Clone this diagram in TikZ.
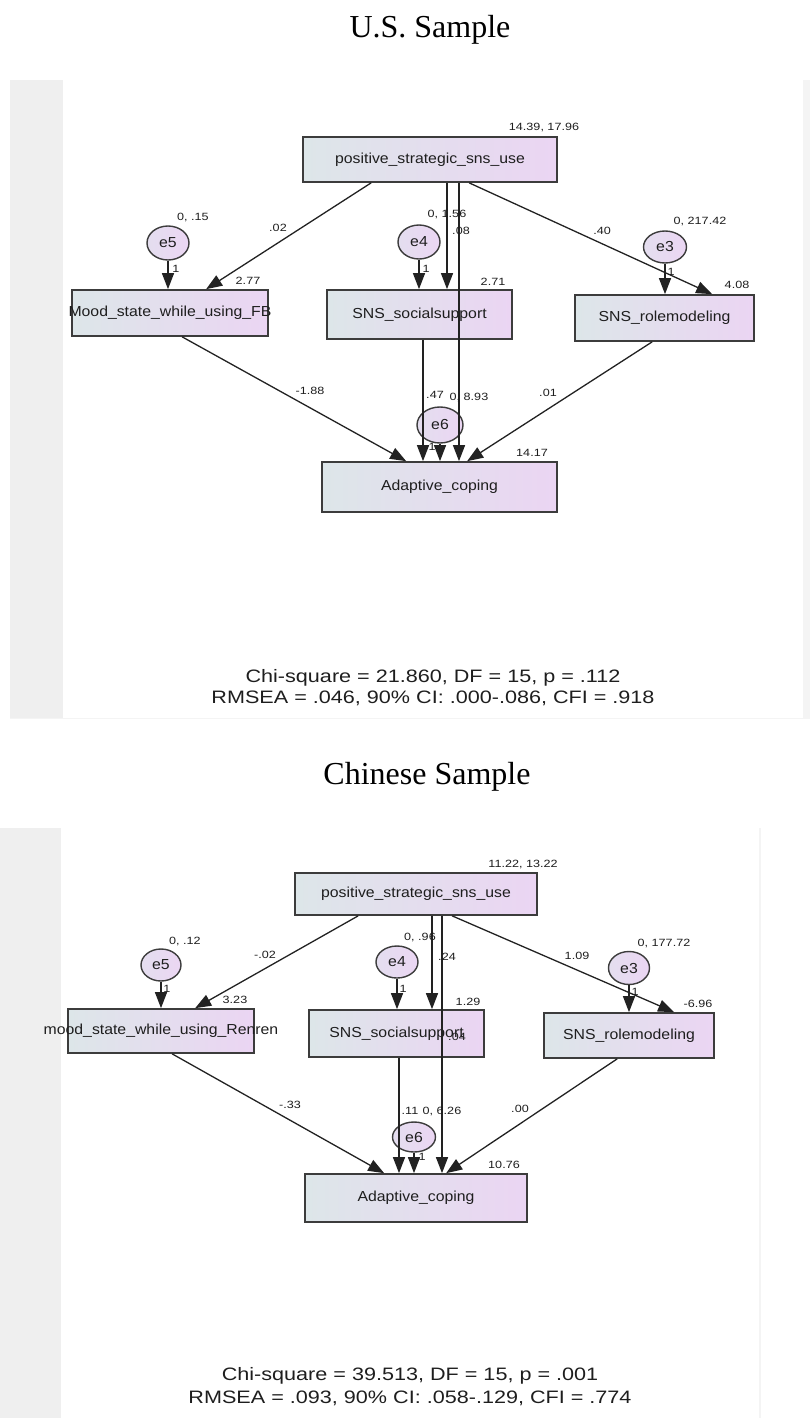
\documentclass[tikz,border=0pt]{standalone}
\usepackage{fontspec}
\setmainfont{Liberation Serif}
\newfontfamily\nodefont[FakeStretch=1.09]{Liberation Sans}
\newfontfamily\fitfont[FakeStretch=1.2]{Liberation Sans}
\newfontfamily\numfont[FakeStretch=1.2]{Liberation Sans}
\usetikzlibrary{arrows.meta,shapes.geometric}
\definecolor{panelgray}{HTML}{EFEFEF}
\definecolor{edgegray}{HTML}{F4F4F4}
\definecolor{boxline}{HTML}{3C3C3C}
\definecolor{boxleft}{HTML}{DDE6E9}
\definecolor{boxright}{HTML}{EBD5F3}
\definecolor{ellleft}{HTML}{E4DEEF}
\definecolor{ellright}{HTML}{EBD6F3}
\definecolor{linec}{HTML}{222222}
\definecolor{txt}{HTML}{1E1E1E}
\begin{document}
\begin{tikzpicture}[x=1pt,y=-1pt,
  box/.style={draw=boxline, line width=1.7pt, left color=boxleft, right color=boxright,
    inner sep=0pt, text=txt, font=\nodefont\fontsize{14.5}{17}\selectfont},
  err/.style={ellipse, draw=boxline, line width=1.4pt, left color=ellleft, right color=ellright,
    inner sep=0pt, text=txt, font=\nodefont\fontsize{14.5}{17}\selectfont},
  arr/.style={draw=linec, line width=1.3pt, -{Triangle[length=16pt,width=12pt]}},
  num/.style={inner sep=0pt, text=txt, font=\numfont\fontsize{10.5}{12}\selectfont},
  fit/.style={inner sep=0pt, text=txt, font=\fitfont\fontsize{18}{22}\selectfont},
  heading/.style={inner sep=0pt, font=\fontsize{32}{38}\selectfont}]
\useasboundingbox (0,0) rectangle (810,1418);

% ---------- panel backgrounds ----------
\fill[panelgray] (10,80) rectangle (63,718);
\fill[edgegray] (803,80) rectangle (810,718);
\draw[edgegray, line width=1pt] (10,718) -- (810,718);
\fill[panelgray] (0,828) rectangle (61,1418);
\draw[edgegray, line width=2pt] (760,828) -- (760,1418);

% ---------- titles ----------
\node[heading] (t1) at (430,30) {U.S. Sample};
\node[heading] (t2) at (427,777) {Chinese Sample};

% ================= U.S. model =================
\node[box, minimum width=254pt, minimum height=45pt] (pos1) at (430,159.5) {\makebox[0pt]{positive\_strategic\_sns\_use}};
\node[box, minimum width=196pt, minimum height=46pt] (mood1) at (170,313) {\makebox[0pt]{Mood\_state\_while\_using\_FB}};
\node[box, minimum width=185pt, minimum height=49pt] (soc1) at (419.5,314.5) {\makebox[0pt]{SNS\_socialsupport}};
\node[box, minimum width=179pt, minimum height=46pt] (role1) at (664.5,318) {\makebox[0pt]{SNS\_rolemodeling}};
\node[box, minimum width=235pt, minimum height=50pt] (ad1) at (439.5,487) {\makebox[0pt]{Adaptive\_coping}};
\node[err, minimum width=42pt, minimum height=34pt] (e5a) at (168,243) {e5};
\node[err, minimum width=42pt, minimum height=34pt] (e4a) at (419,242) {e4};
\node[err, minimum width=43pt, minimum height=32pt] (e3a) at (665,247) {e3};
\node[err, minimum width=46pt, minimum height=36pt] (e6a) at (440,425) {e6};

\coordinate (u447) at (447,0);
\coordinate (u459) at (459,0);
\coordinate (u423) at (423,0);

\draw[arr] ([xshift=69pt]pos1.south west) -- ([xshift=135pt]mood1.north west);
\draw[arr] (pos1.south -| u447) -- (soc1.north -| u447);
\draw[arr] (pos1.south -| u459) -- (ad1.north -| u459);
\draw[arr] ([xshift=167pt]pos1.south west) -- ([xshift=138pt]role1.north west);
\draw[arr] (e5a.south) -- (mood1.north -| e5a.south);
\draw[arr] (e4a.south) -- (soc1.north -| e4a.south);
\draw[arr] (e3a.south) -- (role1.north -| e3a.south);
\draw[arr] ([xshift=111pt]mood1.south west) -- ([xshift=85pt]ad1.north west);
\draw[arr] (soc1.south -| u423) -- (ad1.north -| u423);
\draw[arr] (e6a.south) -- (ad1.north -| e6a.south);
\draw[arr] ([xshift=78pt]role1.south west) -- ([xshift=146pt]ad1.north west);

\node[num] (l1) at (544,128) {14.39, 17.96};
\node[num] (l2) at (193,218) {0, .15};
\node[num] (l3) at (278,228) {.02};
\node[num] (l4) at (248,281) {2.77};
\node[num] (l5) at (176,269) {1};
\node[num] (l6) at (447,215) {0, 1.56};
\node[num] (l7) at (461,231) {.08};
\node[num] (l8) at (426,269) {1};
\node[num] (l9) at (493,282) {2.71};
\node[num] (l10) at (602,231) {.40};
\node[num] (l11) at (700,222) {0, 217.42};
\node[num] (l12) at (671,272) {1};
\node[num] (l13) at (737,285) {4.08};
\node[num] (l14) at (310,391) {-1.88};
\node[num] (l15) at (435,395) {.47};
\node[num] (l16) at (469,398) {0, 8.93};
\node[num] (l17) at (548,393) {.01};
\node[num] (l18) at (432,447) {1};
\node[num] (l19) at (532,453) {14.17};

\node[fit] (f1) at (433,678) {Chi-square = 21.860, DF = 15, p = .112};
\node[fit] (f2) at (433,698) {RMSEA = .046, 90\% CI: .000-.086, CFI = .918};

% ================= Chinese model =================
\node[box, minimum width=242pt, minimum height=42pt] (pos2) at (416,894) {\makebox[0pt]{positive\_strategic\_sns\_use}};
\node[box, minimum width=186pt, minimum height=44pt] (mood2) at (161,1031) {\makebox[0pt]{mood\_state\_while\_using\_Renren}};
\node[box, minimum width=175pt, minimum height=47pt] (soc2) at (396.5,1033.5) {\makebox[0pt]{SNS\_socialsupport}};
\node[box, minimum width=170pt, minimum height=45pt] (role2) at (629,1035.5) {\makebox[0pt]{SNS\_rolemodeling}};
\node[box, minimum width=222pt, minimum height=48pt] (ad2) at (416,1198) {\makebox[0pt]{Adaptive\_coping}};
\node[err, minimum width=40pt, minimum height=32pt] (e5b) at (161,965) {e5};
\node[err, minimum width=42pt, minimum height=32pt] (e4b) at (397,962) {e4};
\node[err, minimum width=41pt, minimum height=33pt] (e3b) at (629,968) {e3};
\node[err, minimum width=43pt, minimum height=30pt] (e6b) at (414,1137) {e6};

\coordinate (c432) at (432,0);
\coordinate (c442) at (442,0);
\coordinate (c399) at (399,0);

\draw[arr] ([xshift=64pt]pos2.south west) -- ([xshift=128pt]mood2.north west);
\draw[arr] (pos2.south -| c432) -- (soc2.north -| c432);
\draw[arr] (pos2.south -| c442) -- (ad2.north -| c442);
\draw[arr] ([xshift=158pt]pos2.south west) -- ([xshift=131pt]role2.north west);
\draw[arr] (e5b.south) -- (mood2.north -| e5b.south);
\draw[arr] (e4b.south) -- (soc2.north -| e4b.south);
\draw[arr] (e3b.south) -- (role2.north -| e3b.south);
\draw[arr] ([xshift=105pt]mood2.south west) -- ([xshift=80pt]ad2.north west);
\draw[arr] (soc2.south -| c399) -- (ad2.north -| c399);
\draw[arr] (e6b.south) -- (ad2.north -| e6b.south);
\draw[arr] ([xshift=74pt]role2.south west) -- ([xshift=142pt]ad2.north west);

\node[num] (m1) at (523,864) {11.22, 13.22};
\node[num] (m2) at (185,941) {0, .12};
\node[num] (m3) at (265,955) {-.02};
\node[num] (m4) at (235,1000) {3.23};
\node[num] (m5) at (167,989) {1};
\node[num] (m6) at (420,937) {0, .96};
\node[num] (m7) at (447,957) {.24};
\node[num] (m8) at (403,989) {1};
\node[num] (m9) at (468,1002) {1.29};
\node[num] (m10) at (457,1037) {.04};
\node[num] (m11) at (577,956) {1.09};
\node[num] (m12) at (664,943) {0, 177.72};
\node[num] (m13) at (635,992) {1};
\node[num] (m14) at (698,1004) {-6.96};
\node[num] (m15) at (290,1105) {-.33};
\node[num] (m16) at (410,1111) {.11};
\node[num] (m17) at (442,1111) {0, 6.26};
\node[num] (m18) at (520,1109) {.00};
\node[num] (m19) at (422,1157) {1};
\node[num] (m20) at (504,1165) {10.76};

\node[fit] (f3) at (410,1376) {Chi-square = 39.513, DF = 15, p = .001};
\node[fit] (f4) at (410,1398) {RMSEA = .093, 90\% CI: .058-.129, CFI = .774};
\end{tikzpicture}
\end{document}
